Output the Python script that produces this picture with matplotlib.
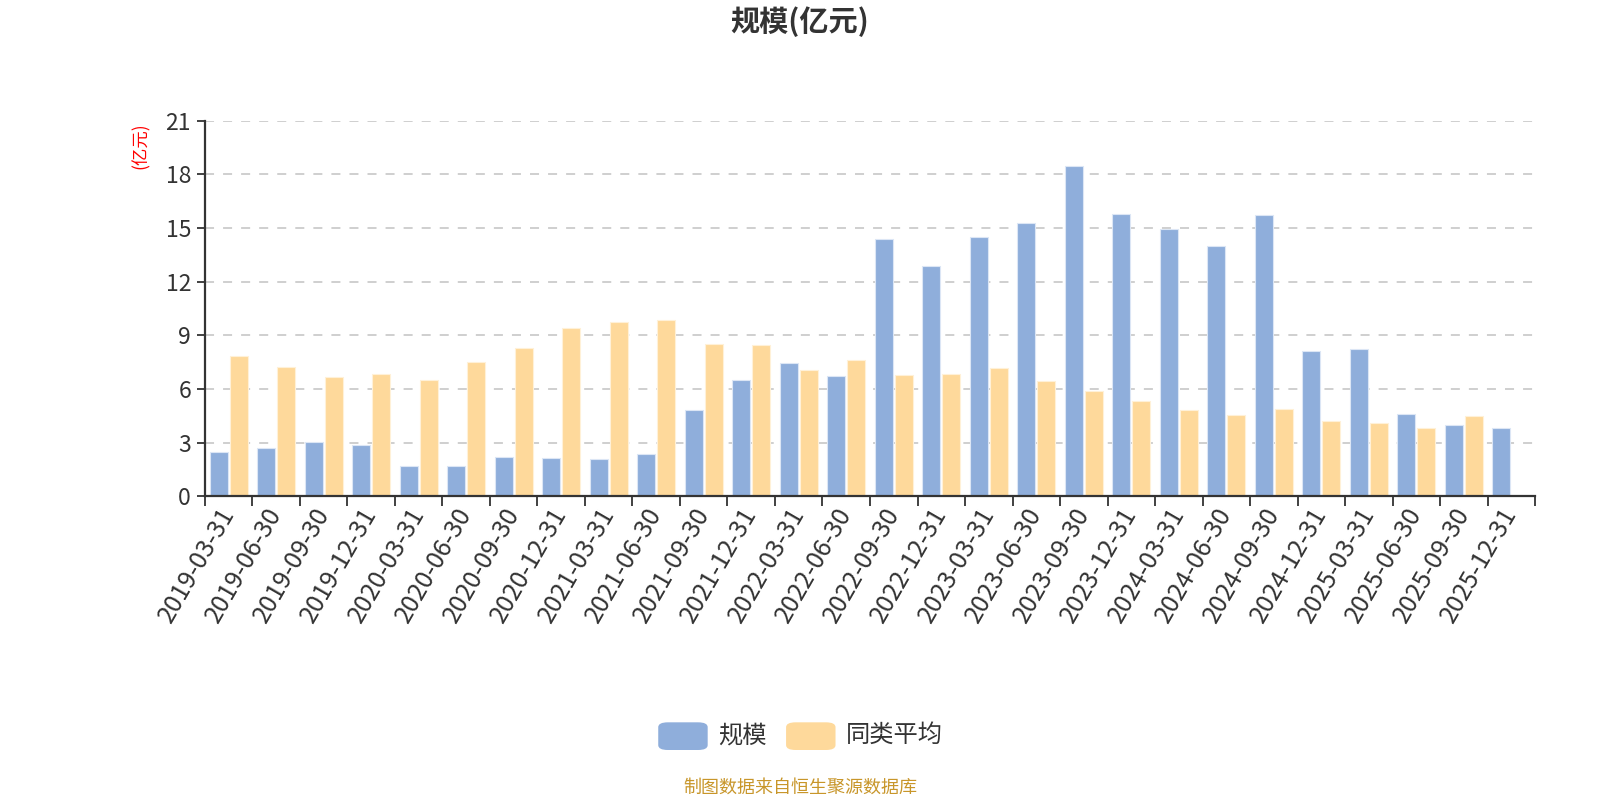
import matplotlib
matplotlib.use("Agg")
import matplotlib.pyplot as plt
import numpy as np
from matplotlib.patches import FancyBboxPatch

plt.rcParams['font.family'] = ['Noto Sans CJK SC', 'DejaVu Sans']

dates = ['2019-03-31', '2019-06-30', '2019-09-30', '2019-12-31',
         '2020-03-31', '2020-06-30', '2020-09-30', '2020-12-31',
         '2021-03-31', '2021-06-30', '2021-09-30', '2021-12-31',
         '2022-03-31', '2022-06-30', '2022-09-30', '2022-12-31',
         '2023-03-31', '2023-06-30', '2023-09-30', '2023-12-31',
         '2024-03-31', '2024-06-30', '2024-09-30', '2024-12-31',
         '2025-03-31', '2025-06-30', '2025-09-30', '2025-12-31']

scale = [2.48, 2.70, 3.02, 2.87, 1.71, 1.71, 2.22, 2.16, 2.07, 2.35,
         4.82, 6.50, 7.47, 6.76, 14.41, 12.87, 14.51, 15.27, 18.49, 15.79,
         14.93, 13.98, 15.72, 8.14, 8.25, 4.62, 4.00, 3.85]

peer_avg = [7.86, 7.26, 6.69, 6.87, 6.52, 7.52, 8.29, 9.42, 9.74, 9.85,
            8.51, 8.45, 7.08, 7.64, 6.80, 6.87, 7.19, 6.44, 5.90, 5.33,
            4.82, 4.58, 4.88, 4.21, 4.10, 3.85, 4.51, None]

yticks = [0, 3, 6, 9, 12, 15, 18, 21]

blue = '#8faedb'
orange = '#fed99b'

fig = plt.figure(figsize=(16, 8), dpi=100)
ax = fig.add_axes([0.1281, 0.3794, 0.8313, 0.4697])
ax.set_axisbelow(True)

x = np.arange(len(dates))
w = 0.375
off = 0.21
ax.bar(x - off, scale, width=w, color=blue, edgecolor='#dce6f5', linewidth=0.8, zorder=1)
peer_x = [xi for xi, v in zip(x, peer_avg) if v is not None]
peer_v = [v for v in peer_avg if v is not None]
ax.bar(np.array(peer_x) + off, peer_v, width=w, color=orange, edgecolor='#fff1d8', linewidth=0.8, zorder=1)

ax.set_xlim(-0.5, len(dates) - 0.5)
ax.set_ylim(0, 21)
ax.set_yticks(yticks)
ax.set_yticklabels([str(t) for t in yticks], fontsize=16.5, color='#333333')
ax.yaxis.grid(True, linestyle=(0, (5, 5)), color='#cccccc', linewidth=1.3)
ax.tick_params(axis='y', length=6, width=1.3, color='#333333', pad=4)

ax.set_xticks(x)
ax.set_xticklabels(dates, rotation=60, ha='right', va='center', rotation_mode='anchor',
                   fontsize=18, color='#333333')
ax.tick_params(axis='x', which='major', length=0, pad=9)
ax.set_xticks(np.arange(-0.5, len(dates) + 0.5, 1), minor=True)
ax.tick_params(axis='x', which='minor', length=7, width=1.3, color='#333333')

for side in ['top', 'right']:
    ax.spines[side].set_visible(False)
for side in ['left', 'bottom']:
    ax.spines[side].set_color('#333333')
    ax.spines[side].set_linewidth(1.6)

fig.text(0.5, 0.973, '规模(亿元)', ha='center', va='center', fontsize=21, fontweight='bold', color='#333333')
fig.text(0.0881, 0.818, '(亿元)', ha='center', va='center', rotation=90, fontsize=12.5, color='red')

# legend
lx = [0.4114, 0.4913]
labels = ['规模', '同类平均']
colors = [blue, orange]
for px, lab, c in zip(lx, labels, colors):
    fig.patches.append(FancyBboxPatch((px, 0.0625), 0.0309, 0.0346,
                                      boxstyle='round,pad=0,rounding_size=0.006',
                                      transform=fig.transFigure, facecolor=c, edgecolor='none'))
    fig.text(px + 0.0373, 0.081, lab, ha='left', va='center', fontsize=17.5, color='#333333')

fig.text(0.5, 0.016, '制图数据来自恒生聚源数据库', ha='center', va='center', fontsize=13, color='#c8962a')

fig.savefig('out.png', dpi=100)
